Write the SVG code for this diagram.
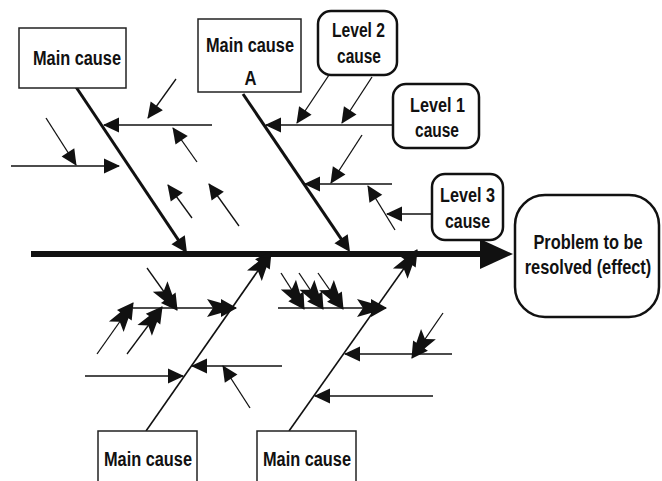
<svg xmlns="http://www.w3.org/2000/svg" width="662" height="481" viewBox="0 0 662 481">
<style>
.box{fill:#fff;stroke:#222;stroke-width:1.5}
.rbox{fill:#fff;stroke:#111;stroke-width:2.5}
.t{font-family:"Liberation Sans",Arial,sans-serif;font-weight:bold;font-size:20px;fill:#111;text-anchor:middle}
.thin{stroke:#111;stroke-width:1.3;fill:none}
.bone{stroke:#111;stroke-width:3;fill:none}
.fbone{stroke:#111;stroke-width:1.6;fill:none}
</style>
<defs>
<marker id="tri" markerUnits="userSpaceOnUse" markerWidth="40" markerHeight="40" viewBox="-20 -20 40 40" refX="0" refY="0" orient="auto" overflow="visible">
<path d="M1,0 L-15,-7.5 L-15,7.5 Z" fill="#111"/>
</marker>
<marker id="triB" markerUnits="userSpaceOnUse" markerWidth="40" markerHeight="40" viewBox="-20 -20 40 40" refX="0" refY="0" orient="auto" overflow="visible">
<path d="M4,0 L-12,-8 L-12,8 Z" fill="#111"/>
</marker>
<marker id="notch" markerUnits="userSpaceOnUse" markerWidth="80" markerHeight="80" viewBox="-40 -40 80 80" refX="0" refY="0" orient="auto" overflow="visible">
<path d="M1,0 L-15,-9 L-15,-5 L-29,-9 L-23,0 L-29,9 L-15,5 L-15,9 Z" fill="#111"/>
</marker>
</defs>
<g id="connectors">
<line x1="31" y1="254" x2="482" y2="254" stroke="#111" stroke-width="6"/>
<polygon points="480,239 513,254 480,269" fill="#111"/>
<line class="bone" x1="74" y1="84" x2="184.8" y2="249.7" marker-end="url(#triB)"/>
<line class="thin" x1="176" y1="79" x2="148" y2="118" marker-end="url(#tri)"/>
<line class="thin" x1="212" y1="125" x2="104" y2="125" marker-end="url(#tri)"/>
<line class="thin" x1="46" y1="118" x2="76" y2="165" marker-end="url(#tri)"/>
<line class="thin" x1="11" y1="166" x2="119" y2="166" marker-end="url(#tri)"/>
<line class="thin" x1="197" y1="162" x2="173" y2="128" marker-end="url(#tri)"/>
<line class="thin" x1="192" y1="218" x2="168" y2="185" marker-end="url(#tri)"/>
<line class="thin" x1="239" y1="226" x2="209" y2="184" marker-end="url(#tri)"/>
<line class="bone" x1="243" y1="94" x2="347.8" y2="248.7" marker-end="url(#triB)"/>
<line class="thin" x1="329" y1="75" x2="297" y2="123" marker-end="url(#tri)"/>
<line class="thin" x1="372" y1="77" x2="342" y2="123" marker-end="url(#tri)"/>
<line class="thin" x1="393" y1="125" x2="266" y2="125" marker-end="url(#tri)"/>
<line class="thin" x1="362" y1="135" x2="331" y2="183" marker-end="url(#tri)"/>
<line class="thin" x1="392" y1="184" x2="305" y2="184" marker-end="url(#tri)"/>
<line class="thin" x1="395" y1="230" x2="368" y2="186" marker-end="url(#tri)"/>
<line class="thin" x1="432" y1="214" x2="387" y2="214" marker-end="url(#tri)"/>
<line class="fbone" x1="146" y1="431" x2="271" y2="252" marker-end="url(#notch)"/>
<line class="thin" x1="133" y1="308" x2="236" y2="308" marker-end="url(#notch)"/>
<line class="thin" x1="147" y1="268" x2="177" y2="310" marker-end="url(#notch)"/>
<line class="thin" x1="97" y1="354" x2="133" y2="303" marker-end="url(#notch)"/>
<line class="thin" x1="127" y1="354" x2="162" y2="307" marker-end="url(#notch)"/>
<line class="thin" x1="85" y1="376" x2="183" y2="376" marker-end="url(#tri)"/>
<line class="thin" x1="282" y1="366" x2="192" y2="366" marker-end="url(#tri)"/>
<line class="thin" x1="250" y1="408" x2="223" y2="366" marker-end="url(#tri)"/>
<line class="fbone" x1="289" y1="431" x2="417" y2="250" marker-end="url(#notch)"/>
<line class="thin" x1="278" y1="308" x2="386" y2="308" marker-end="url(#notch)"/>
<line class="thin" x1="281" y1="273" x2="304" y2="309" marker-end="url(#notch)"/>
<line class="thin" x1="299" y1="273" x2="323" y2="309" marker-end="url(#notch)"/>
<line class="thin" x1="318" y1="273" x2="343" y2="309" marker-end="url(#notch)"/>
<line class="thin" x1="443" y1="313" x2="412" y2="358" marker-end="url(#notch)"/>
<line class="thin" x1="452" y1="354" x2="345" y2="354" marker-end="url(#tri)"/>
<line class="thin" x1="433" y1="396" x2="315" y2="396" marker-end="url(#tri)"/>
</g>
<g id="main-cause-tl">
<rect class="box" x="19" y="28" width="107" height="60"/>
<text class="t" x="77" y="65" textLength="88" lengthAdjust="spacingAndGlyphs">Main cause</text>
</g>
<g id="main-cause-a">
<rect class="box" x="198" y="19" width="103" height="73"/>
<text class="t" x="250" y="52" textLength="88" lengthAdjust="spacingAndGlyphs">Main cause</text>
<text class="t" x="250.5" y="85" textLength="12" lengthAdjust="spacingAndGlyphs">A</text>
</g>
<g id="level2">
<rect class="rbox" x="318" y="11" width="79" height="64" rx="13"/>
<text class="t" x="358.5" y="37" textLength="53" lengthAdjust="spacingAndGlyphs">Level 2</text>
<text class="t" x="359" y="63" textLength="44" lengthAdjust="spacingAndGlyphs">cause</text>
</g>
<g id="level1">
<rect class="rbox" x="393" y="84" width="86" height="64" rx="13"/>
<text class="t" x="437.5" y="112" textLength="55" lengthAdjust="spacingAndGlyphs">Level 1</text>
<text class="t" x="437" y="137" textLength="44" lengthAdjust="spacingAndGlyphs">cause</text>
</g>
<g id="level3">
<rect class="rbox" x="432" y="174" width="71" height="66" rx="13"/>
<text class="t" x="467.5" y="202" textLength="55" lengthAdjust="spacingAndGlyphs">Level 3</text>
<text class="t" x="467.5" y="228" textLength="45" lengthAdjust="spacingAndGlyphs">cause</text>
</g>
<g id="problem">
<rect class="rbox" x="515" y="195" width="144" height="122" rx="30"/>
<text class="t" transform="translate(588,249) scale(0.82,1)">Problem to be</text>
<text class="t" transform="translate(588,274) scale(0.82,1)">resolved (effect)</text>
</g>
<g id="main-cause-bl">
<rect class="box" x="98" y="431" width="99" height="60"/>
<text class="t" x="148" y="466" textLength="88" lengthAdjust="spacingAndGlyphs">Main cause</text>
</g>
<g id="main-cause-br">
<rect class="box" x="257" y="431" width="99" height="60"/>
<text class="t" x="307" y="466" textLength="88" lengthAdjust="spacingAndGlyphs">Main cause</text>
</g>
</svg>
